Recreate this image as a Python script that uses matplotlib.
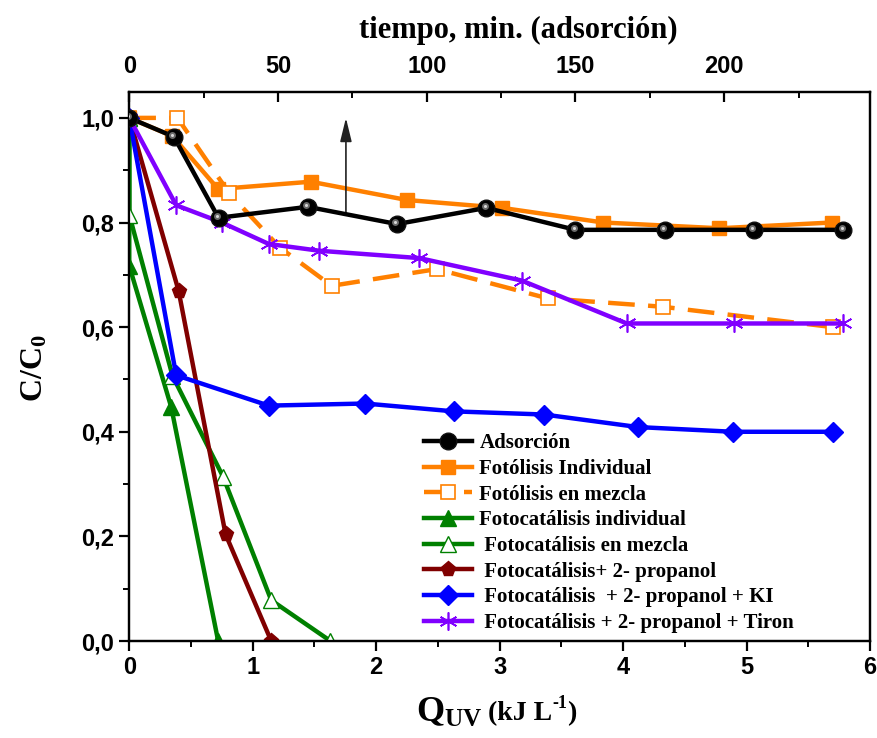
import matplotlib
matplotlib.use("Agg")
import matplotlib.pyplot as plt
from matplotlib.ticker import MultipleLocator, FuncFormatter
from matplotlib.transforms import ScaledTranslation

SERIF = "Liberation Serif"
SANS = "Liberation Sans"
plt.rcParams["mathtext.fontset"] = "custom"
plt.rcParams["mathtext.rm"] = "Liberation Serif:bold"
plt.rcParams["mathtext.bf"] = "Liberation Serif:bold"
plt.rcParams["mathtext.it"] = "Liberation Serif:bold"

# Adsorption (dark), plotted against time on the top axis (min)
t_ads = [0, 15, 30, 60, 90, 120, 150, 180, 210, 240]
c_ads = [1.0, 0.964, 0.809, 0.830, 0.797, 0.828, 0.786, 0.786, 0.786, 0.786]

# Series against accumulated UV energy Q_UV (kJ/L)
q_fot_ind = [0, 0.35, 0.72, 1.47, 2.25, 3.02, 3.84, 4.78, 5.69]
c_fot_ind = [1.0, 0.965, 0.864, 0.878, 0.843, 0.828, 0.800, 0.789, 0.800]

q_fot_mez = [0, 0.39, 0.81, 1.22, 1.64, 2.49, 3.39, 4.32, 5.70]
c_fot_mez = [1.0, 1.0, 0.856, 0.752, 0.679, 0.711, 0.655, 0.639, 0.600]

q_cat_ind = [0, 0, 0.34, 0.72]
c_cat_ind = [1.0, 0.717, 0.447, 0.0]

q_cat_mez = [0, 0, 0.35, 0.76, 1.15, 1.63]
c_cat_mez = [1.0, 0.815, 0.507, 0.314, 0.078, 0.0]

q_prop = [0, 0.40, 0.78, 1.15]
c_prop = [1.0, 0.669, 0.204, 0.0]

q_ki = [0, 0.38, 1.13, 1.91, 2.63, 3.36, 4.12, 4.89, 5.70]
c_ki = [1.0, 0.508, 0.450, 0.454, 0.439, 0.433, 0.409, 0.400, 0.400]

q_tiron = [0, 0.38, 0.75, 1.13, 1.54, 2.35, 3.18, 4.03, 4.90, 5.78]
c_tiron = [1.0, 0.833, 0.800, 0.759, 0.746, 0.732, 0.689, 0.607, 0.607, 0.607]

labels = [
    "Adsorción",
    "Fotólisis Individual",
    "Fotólisis en mezcla",
    "Fotocatálisis individual",
    " Fotocatálisis en mezcla",
    " Fotocatálisis+ 2- propanol",
    " Fotocatálisis  + 2- propanol + KI",
    " Fotocatálisis + 2- propanol + Tiron",
]

ORANGE = "#FF8000"
GREEN = "#008000"
DARKRED = "#800000"
BLUE = "#0000FF"
PURPLE = "#8000FF"

fig = plt.figure(figsize=(8.77, 7.38), dpi=100)
ax = fig.add_axes([0.1474, 0.1314, 0.8446, 0.7443])
ax2 = ax.twiny()

lw = 3.2
h_fot_ind, = ax.plot(q_fot_ind, c_fot_ind, color=ORANGE, lw=lw, marker="s", ms=10,
                     mfc=ORANGE, mec=ORANGE, zorder=3)
h_fot_mez, = ax.plot(q_fot_mez, c_fot_mez, color=ORANGE, lw=lw, dashes=(6, 3), marker="s",
                     ms=10, mfc="white", mec=ORANGE, mew=1.2, zorder=3)
h_cat_ind, = ax.plot(q_cat_ind, c_cat_ind, color=GREEN, lw=lw, marker="^", ms=11,
                     mfc=GREEN, mec=GREEN, zorder=3)
h_cat_mez, = ax.plot(q_cat_mez, c_cat_mez, color=GREEN, lw=lw, marker="^", ms=11,
                     mfc="white", mec=GREEN, mew=1.0, zorder=3)
h_prop, = ax.plot(q_prop, c_prop, color=DARKRED, lw=lw, marker="p", ms=11,
                  mfc=DARKRED, mec=DARKRED, zorder=3)
h_ki, = ax.plot(q_ki, c_ki, color=BLUE, lw=lw, marker="D", ms=10,
                mfc=BLUE, mec=BLUE, zorder=3)
h_tiron, = ax.plot(q_tiron, c_tiron, color=PURPLE, lw=lw, marker=(6, 2, 0), ms=13,
                   mfc=PURPLE, mec=PURPLE, mew=1.2, zorder=3)

# arrow pointing the adsorption curve to the top (time) axis
ax.annotate("", xy=(1.755, 1.0), xytext=(1.755, 0.819),
            arrowprops=dict(arrowstyle="-|>,head_length=0.9,head_width=0.22",
                            color="#222222", lw=1.2, mutation_scale=16,
                            shrinkA=0, shrinkB=0))

# adsorption curve with shaded spheres as markers
h_ads, = ax2.plot(t_ads, c_ads, color="black", lw=lw, marker="o", ms=12,
                  mfc="black", mec="#111111", zorder=4)
hl = ax2.transData + ScaledTranslation(-1.2 / 72, 1.2 / 72, fig.dpi_scale_trans)
ax2.plot(t_ads, c_ads, ls="none", marker="o", ms=5, mfc="#6a6a6a", mec="none",
         transform=hl, zorder=5)
ax2.plot(t_ads, c_ads, ls="none", marker="o", ms=2.2, mfc="#d8d8d8", mec="none",
         transform=hl, zorder=6)

ax.set_xlim(0, 6)
ax.set_ylim(0, 1.05)
ax2.set_xlim(0, 249)

fmt = FuncFormatter(lambda v, p: f"{v:.1f}".replace(".", ","))
ax.yaxis.set_major_formatter(fmt)
ax.xaxis.set_major_locator(MultipleLocator(1))
ax.xaxis.set_minor_locator(MultipleLocator(0.5))
ax.yaxis.set_major_locator(MultipleLocator(0.2))
ax.yaxis.set_minor_locator(MultipleLocator(0.1))
ax2.xaxis.set_major_locator(MultipleLocator(50))
ax2.xaxis.set_minor_locator(MultipleLocator(25))

for a in (ax, ax2):
    for s in a.spines.values():
        s.set_linewidth(1.6)

ax.tick_params(which="major", direction="out", length=7, width=1.6, top=False, right=False,
               labelsize=17, pad=4)
ax.tick_params(which="minor", direction="out", length=4, width=1.4, top=False, right=False)
ax2.tick_params(axis="x", which="major", direction="in", length=7, width=1.6, labelsize=17,
                pad=10)
ax2.tick_params(axis="x", which="minor", direction="in", length=4, width=1.4)

for lab in ax.get_xticklabels() + ax.get_yticklabels() + ax2.get_xticklabels():
    lab.set_fontfamily(SANS)
    lab.set_fontweight("bold")

fig.text(518 / 877, 1 - 30 / 738, "tiempo, min. (adsorción)", ha="center", va="center",
         family=SERIF, weight="bold", fontsize=22)

# bottom axis title: Q_UV (kJ L-1), assembled piece by piece
fig.text(483 / 877, 1 - 722 / 738, r"Q$_{\mathrm{UV}}$", ha="right", va="baseline",
         family=SERIF, weight="bold", fontsize=26)
t_unit = fig.text(488 / 877, 1 - 720 / 738, "(kJ L", ha="left", va="baseline",
                  family=SERIF, weight="bold", fontsize=20)
t_sup = fig.add_artist(plt.Annotation("-1", xy=(1.0, 0.55), xycoords=t_unit, ha="left",
                                      va="bottom", family=SERIF, weight="bold", fontsize=13))
fig.add_artist(plt.Annotation(")", xy=(1.0, 0.0), xycoords=(t_sup, t_unit), ha="left",
                              va="bottom", family=SERIF, weight="bold", fontsize=20))

fig.text(35 / 877, 1 - 368 / 738, r"C/C$_{\mathrm{0}}$", rotation=90, ha="center", va="center",
         family=SERIF, weight="bold", fontsize=23)

handles = [h_ads, h_fot_ind, h_fot_mez, h_cat_ind, h_cat_mez, h_prop, h_ki, h_tiron]
ax2.legend(handles, labels, loc="upper left", bbox_to_anchor=(0.387, 0.393), frameon=False,
           prop=dict(family=SERIF, weight="bold", size=15), numpoints=1, handlelength=2.3,
           handletextpad=0.35, labelspacing=0.27, borderaxespad=0)

fig.savefig("out.png", dpi=100)
